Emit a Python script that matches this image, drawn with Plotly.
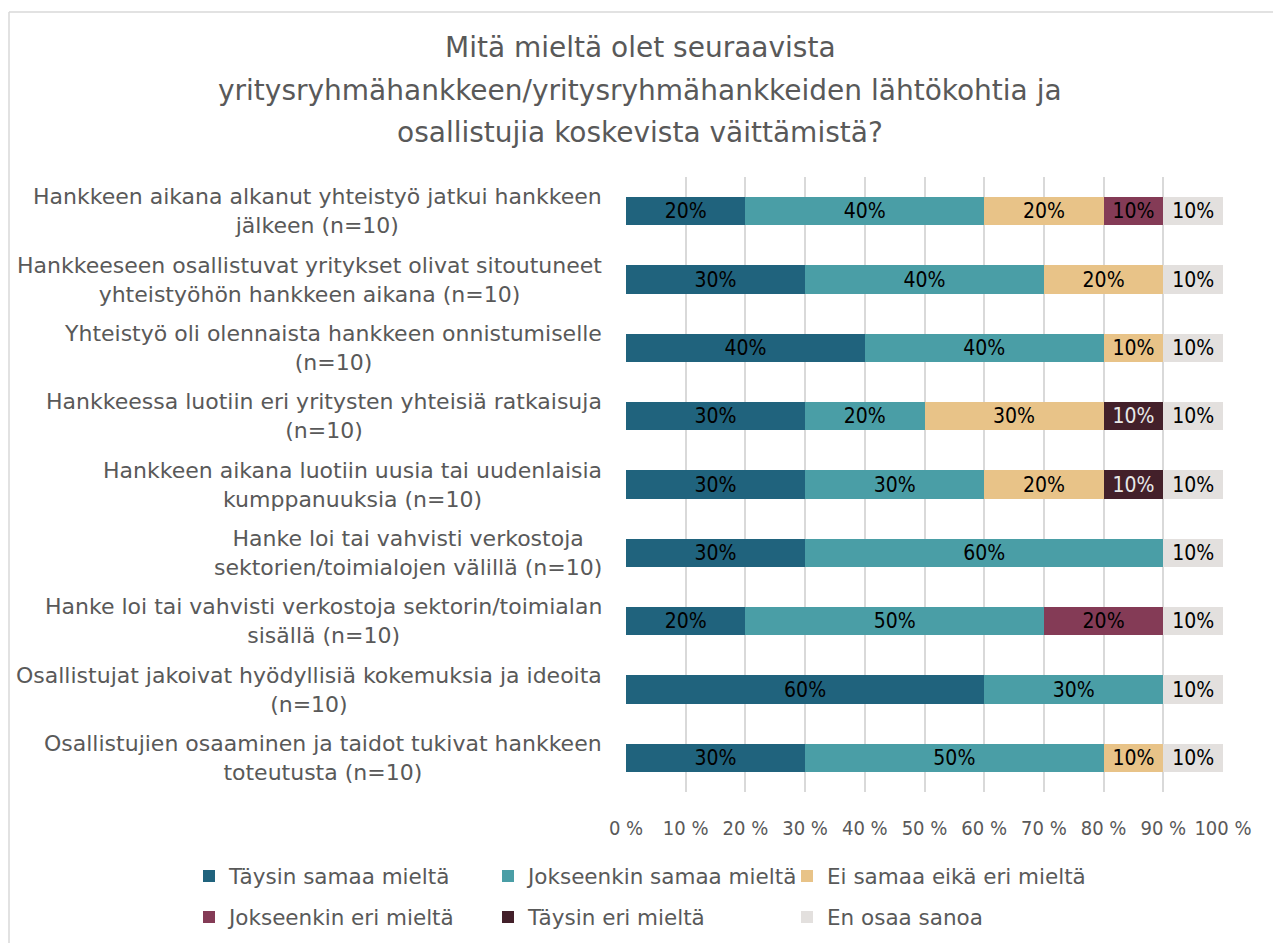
import plotly.graph_objects as go

categories = [
    "Hankkeen aikana alkanut yhteistyö jatkui hankkeen<br>jälkeen (n=10)",
    "Hankkeeseen osallistuvat yritykset olivat sitoutuneet<br>yhteistyöhön hankkeen aikana (n=10)",
    "Yhteistyö oli olennaista hankkeen onnistumiselle<br>(n=10)",
    "Hankkeessa luotiin eri yritysten yhteisiä ratkaisuja<br>(n=10)",
    "Hankkeen aikana luotiin uusia tai uudenlaisia<br>kumppanuuksia (n=10)",
    "Hanke loi tai vahvisti verkostoja<br>sektorien/toimialojen välillä (n=10)",
    "Hanke loi tai vahvisti verkostoja sektorin/toimialan<br>sisällä (n=10)",
    "Osallistujat jakoivat hyödyllisiä kokemuksia ja ideoita<br>(n=10)",
    "Osallistujien osaaminen ja taidot tukivat hankkeen<br>toteutusta (n=10)",
]

taysin_samaa = [20, 30, 40, 30, 30, 30, 20, 60, 30]
jokseenkin_samaa = [40, 40, 40, 20, 30, 60, 50, 30, 50]
ei_samaa_eika_eri = [20, 20, 10, 30, 20, 0, 0, 0, 10]
jokseenkin_eri = [10, 0, 0, 0, 0, 0, 20, 0, 0]
taysin_eri = [0, 0, 0, 10, 10, 0, 0, 0, 0]
en_osaa = [10, 10, 10, 10, 10, 10, 10, 10, 10]

series_names = ["Täysin samaa mieltä", "Jokseenkin samaa mieltä", "Ei samaa eikä eri mieltä",
                "Jokseenkin eri mieltä", "Täysin eri mieltä", "En osaa sanoa"]
series_values = [taysin_samaa, jokseenkin_samaa, ei_samaa_eika_eri, jokseenkin_eri, taysin_eri, en_osaa]
colors = ["#20637D", "#4A9EA6", "#E8C388", "#843B56", "#43202A", "#E3E0DE"]
text_colors = ["#000000", "#000000", "#000000", "#000000", "#E8E8E8", "#000000"]
legend_ids = ["legend", "legend", "legend", "legend2", "legend2", "legend2"]

tick_vals = [0, 10, 20, 30, 40, 50, 60, 70, 80, 90, 100]
tick_text = ["0 %", "10 %", "20 %", "30 %", "40 %", "50 %", "60 %", "70 %", "80 %", "90 %", "100 %"]

title_lines = ["Mitä mieltä olet seuraavista",
               "yritysryhmähankkeen/yritysryhmähankkeiden lähtökohtia ja",
               "osallistujia koskevista väittämistä?"]

LABEL_FONT = "DejaVu Sans, sans-serif"
TICK_FONT = "DejaVu Sans Condensed, DejaVu Sans, sans-serif"
BAR_FONT = "Liberation Sans Narrow, DejaVu Sans Condensed, sans-serif"
GREY = "#595959"

# figure is drawn inside the page body (8px margin)
W, H = 1273, 935
L, R, T, B = 618, 58, 169, 151
PH = H - T - B
PW = W - L - R

fig = go.Figure()
for name, vals, col, tcol, lg in zip(series_names, series_values, colors, text_colors, legend_ids):
    fig.add_trace(go.Bar(
        name=name,
        y=categories,
        x=[v if v else None for v in vals],
        orientation="h",
        marker=dict(color=col, line=dict(width=0)),
        text=[f"{v}%" if v else "" for v in vals],
        textposition="inside",
        insidetextanchor="middle",
        textangle=0,
        constraintext="none",
        textfont=dict(family=BAR_FONT, size=21, color=tcol),
        hoverinfo="skip",
        legend=lg,
    ))

annotations = []
for cat in categories:
    annotations.append(dict(
        text=cat, xref="paper", yref="y", x=0, y=cat, xanchor="right", yanchor="middle",
        xshift=-22, align="center", showarrow=False,
        font=dict(family=LABEL_FONT, size=22, color=GREY),
    ))
for line, shift in zip(title_lines, [130, 87, 45]):
    annotations.append(dict(
        text=line, xref="paper", yref="paper", x=(632 - L) / PW, y=1, xanchor="center",
        yanchor="middle", yshift=shift, showarrow=False,
        font=dict(family=LABEL_FONT, size=28, color=GREY),
    ))

legend_common = dict(
    orientation="h", xanchor="left", yanchor="middle",
    traceorder="normal", entrywidth=254, entrywidthmode="pixels",
    font=dict(family=LABEL_FONT, size=21.5, color=GREY), tracegroupgap=0,
    bgcolor="rgba(0,0,0,0)",
)
lx = (181 - L) / PW

fig.update_layout(
    width=W, height=H,
    barmode="stack",
    bargap=0.59,
    paper_bgcolor="white", plot_bgcolor="white",
    margin=dict(l=L, r=R, t=T, b=B, autoexpand=False),
    annotations=annotations,
    showlegend=True,
    legend=dict(x=lx, y=(H - B - 868) / PH, **legend_common),
    legend2=dict(x=lx, y=(H - B - 909) / PH, **legend_common),
    shapes=[
        dict(type="line", xref="paper", yref="paper", x0=(1 - L) / PW, x1=(1 - L) / PW,
             y0=(H - B - 4) / PH, y1=-0.4, line=dict(color="#D9D9D9", width=1.5)),
        dict(type="line", xref="paper", yref="paper", x0=(1 - L) / PW, x1=1.3,
             y0=(H - B - 4) / PH, y1=(H - B - 4) / PH, line=dict(color="#D9D9D9", width=1.5)),
    ],
)
fig.update_xaxes(range=[0, 100], tickvals=tick_vals, ticktext=tick_text, showgrid=True,
                 gridcolor="#D9D9D9", gridwidth=1.5, zeroline=False, showline=False,
                 tickfont=dict(family=TICK_FONT, size=20, color=GREY), ticks="", ticklabelstandoff=22)
fig.update_yaxes(autorange="reversed", showticklabels=False, showgrid=False, zeroline=False, ticks="")

fig.write_html("out.html")
